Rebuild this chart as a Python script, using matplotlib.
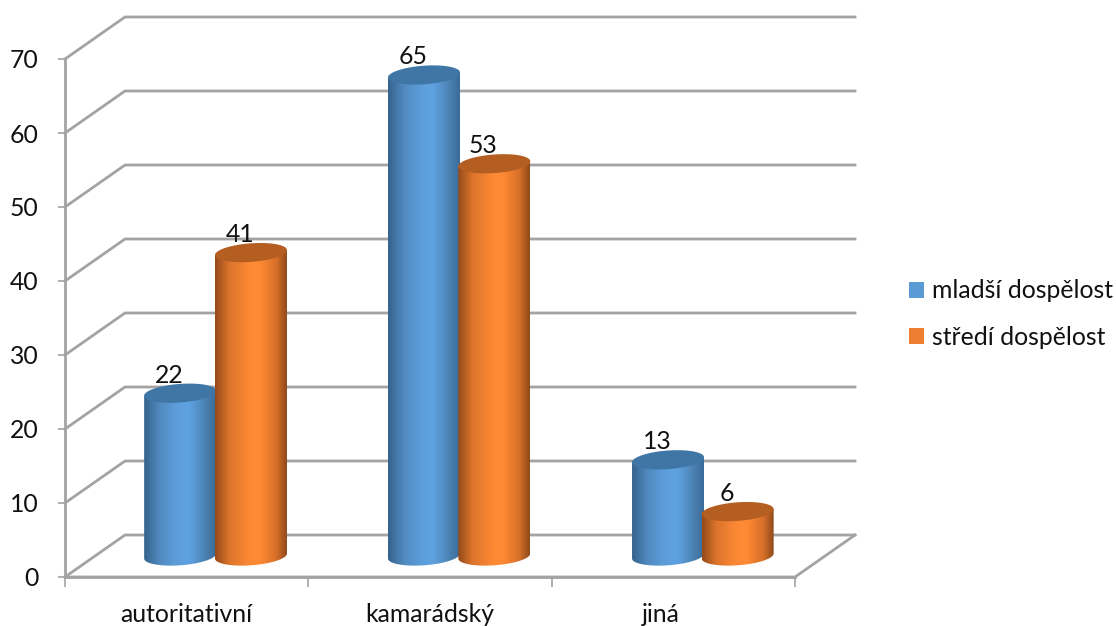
import numpy as np
import matplotlib
matplotlib.use("Agg")
import matplotlib.pyplot as plt
from matplotlib.colors import LinearSegmentedColormap
from matplotlib.patches import Patch, Polygon

plt.rcParams['font.family'] = ['Lato', 'DejaVu Sans']

# Data
categories = ["autoritativní", "kamarádský", "jiná"]
series_names = ["mladší dospělost", "středí dospělost"]
mladsi = [22, 65, 13]
stredi = [41, 53, 6]
y_ticks = [0, 10, 20, 30, 40, 50, 60, 70]

W, H = 1116, 626
FS = 17.8
fig = plt.figure(figsize=(W / 100, H / 100), dpi=100)
# front plane of the 3D box: x 65..795, y 577..59 px
ax = fig.add_axes([65 / W, (H - 577) / H, 730 / W, 518 / H])
ax.set_xlim(0, 3)
ax.set_ylim(0, 70)

# px -> data units
ux = 3 / 730
uy = 70 / 518
depth_x, depth_y = 60 * ux, 42 * uy
GRID = "#a3a3a3"

# back wall and left wall
for v in y_ticks:
    ax.plot([0, depth_x, 3 + depth_x], [v, v + depth_y, v + depth_y],
            color=GRID, lw=2.0, clip_on=False, solid_joinstyle="miter", zorder=1)
# floor
ax.plot([0, 3, 3 + depth_x], [0, 0, depth_y], color=GRID, lw=2.0, clip_on=False, zorder=1)

# axes
for s in ["top", "right"]:
    ax.spines[s].set_visible(False)
for s in ["left", "bottom"]:
    ax.spines[s].set_color(GRID)
    ax.spines[s].set_linewidth(2.0)
ax.set_yticks(y_ticks)
ax.set_xticks([0, 1, 2, 3])
ax.set_xticklabels([])
ax.set_xticks([0.5, 1.5, 2.45], labels=categories, minor=True)
ax.tick_params(axis="x", which="major", length=7, width=1.2, color=GRID)
ax.tick_params(axis="x", which="minor", length=0, pad=19, labelsize=FS, labelcolor="#111111")
ax.tick_params(axis="y", length=5, width=1.2, color=GRID, pad=14, labelsize=FS, labelcolor="#111111")
for lab in ax.get_yticklabels():
    lab.set_va("center_baseline")

blue_map = LinearSegmentedColormap.from_list("b", [(0, "#35628c"), (0.22, "#518ac0"), (0.45, "#5c9dd9"),
                                                   (0.62, "#60a3e3"), (0.85, "#4c82b4"), (1, "#3a6b98")])
orange_map = LinearSegmentedColormap.from_list("o", [(0, "#94491a"), (0.2, "#dc742c"), (0.5, "#ff8a35"),
                                                     (0.62, "#ff8a35"), (0.85, "#d87029"), (1, "#8f4a1b")])
ramp = np.linspace(0, 1, 256).reshape(1, -1)

a = 36 * ux         # cylinder half width
b = 9.3 * uy        # ellipse half height
k = 2.5 * uy        # ellipse tilt
base = 21 * uy      # bars stand half way into the floor
shift = 30 * ux
t = np.linspace(0, 2 * np.pi, 121)


def cylinder(cx, v, cmap, top_color, z):
    x_c = cx + shift
    y_top = base + v
    lower = np.linspace(np.pi, 2 * np.pi, 60)
    xs = x_c + a * np.cos(lower)
    ys = base + b * np.sin(lower) + k * np.cos(lower)
    body = np.column_stack([np.r_[xs, x_c + a, x_c - a], np.r_[ys, y_top + k, y_top - k]])
    clip = Polygon(body, closed=True, transform=ax.transData, fc="none", ec="none")
    ax.add_patch(clip)
    im = ax.imshow(ramp, cmap=cmap, extent=[x_c - a, x_c + a, 0, y_top + b + k], aspect="auto",
                   interpolation="bilinear", zorder=z)
    im.set_clip_path(clip)
    ax.add_patch(Polygon(np.column_stack([x_c + a * np.cos(t), y_top + b * np.sin(t) + k * np.cos(t)]),
                         closed=True, fc=top_color, ec="none", zorder=z + 0.1))
    ax.annotate(str(v), (x_c, y_top), xytext=(-11, 18), textcoords="offset pixels", ha="center", va="center",
                fontsize=FS, color="#111111", zorder=z + 0.2)


centers_a = [0.35, 1.352, 2.355]
centers_b = [0.641, 1.641, 2.641]
for i in range(3):
    cylinder(centers_a[i], mladsi[i], blue_map, "#3f76a6", 3 + i * 2)
    cylinder(centers_b[i], stredi[i], orange_map, "#b55e22", 4 + i * 2)

ax.set_xlim(0, 3)
ax.set_ylim(0, 70)

# legend
handles = [Patch(facecolor="#5b9bd5", label=series_names[0]),
           Patch(facecolor="#ed7d31", label=series_names[1])]
fig.legend(handles=handles, loc="center left", bbox_to_anchor=(909 / W, 1 - 314 / H), frameon=False,
           fontsize=FS, handlelength=0.62, handleheight=0.62, handletextpad=0.3, labelspacing=0.95,
           borderpad=0, borderaxespad=0, labelcolor="#111111")

fig.savefig("out.png", dpi=100)
